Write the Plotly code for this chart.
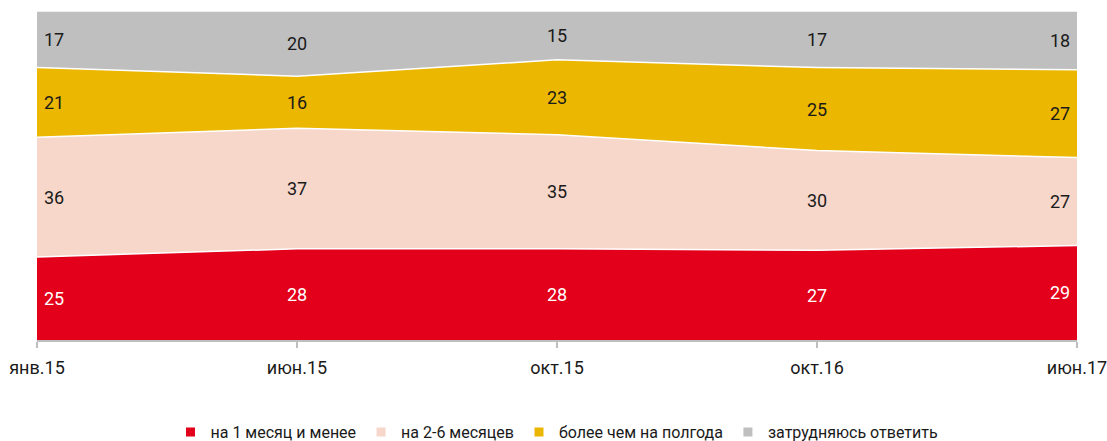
import plotly.graph_objects as go

periods = ["янв.15", "июн.15", "окт.15", "окт.16", "июн.17"]
series_names = ["на 1 месяц и менее", "на 2-6 месяцев", "более чем на полгода", "затрудняюсь ответить"]
month_or_less = [25, 28, 28, 27, 29]
two_to_six = [36, 37, 35, 30, 27]
over_half_year = [21, 16, 23, 25, 27]
hard_to_say = [17, 20, 15, 17, 18]

values = [month_or_less, two_to_six, over_half_year, hard_to_say]
colors = ["#E2001A", "#F6D7CA", "#EBB700", "#BFBFBF"]
label_colors = ["white", "#1a1a1a", "#1a1a1a", "#1a1a1a"]
FONT = "Roboto, sans-serif"

x = list(range(len(periods)))
fig = go.Figure()
for name, vals, col in zip(series_names, values, colors):
    fig.add_trace(go.Scatter(
        x=x, y=vals, name=name, mode="lines", stackgroup="one", groupnorm="percent",
        line=dict(color="white", width=1.5), fillcolor=col, showlegend=False,
        hoverinfo="skip",
    ))
for name, col in zip(series_names, colors):
    fig.add_trace(go.Scatter(
        x=[None], y=[None], name=name, mode="markers",
        marker=dict(symbol="square", size=9, color=col), showlegend=True,
    ))

# value labels in the middle of each band
for i in x:
    total = sum(v[i] for v in values)
    base = 0.0
    for vals, lc in zip(values, label_colors):
        share = vals[i] / total * 100
        mid = base + share / 2
        base += share
        xshift = 17 if i == 0 else (-17 if i == len(x) - 1 else 0)
        fig.add_annotation(x=i, y=mid, text=str(vals[i]), showarrow=False,
                           xshift=xshift, font=dict(family=FONT, size=18, color=lc))

fig.update_layout(
    width=1107, height=441,
    margin=dict(l=37, r=30, t=11, b=101, autoexpand=False),
    paper_bgcolor="white", plot_bgcolor="white",
    font=dict(family=FONT, size=17, color="#1a1a1a"),
    legend=dict(orientation="h", x=0.5, xanchor="center", y=-0.28, yanchor="middle",
                traceorder="normal", font=dict(family=FONT, size=16),
                itemwidth=30, tracegroupgap=0),
    xaxis=dict(range=[0, len(x) - 1], tickvals=x, ticktext=periods, automargin=False,
               showgrid=False, zeroline=False, showline=True, linecolor="#BFBFBF",
               linewidth=2, ticks="outside", ticklen=6, tickcolor="#BFBFBF",
               tickwidth=2, ticklabelstandoff=4, ticklabeloverflow="allow",
               tickfont=dict(family=FONT, size=18)),
    yaxis=dict(range=[0, 100], showgrid=False, zeroline=False, showticklabels=False,
               automargin=False),
)
fig.write_html("out.html")
